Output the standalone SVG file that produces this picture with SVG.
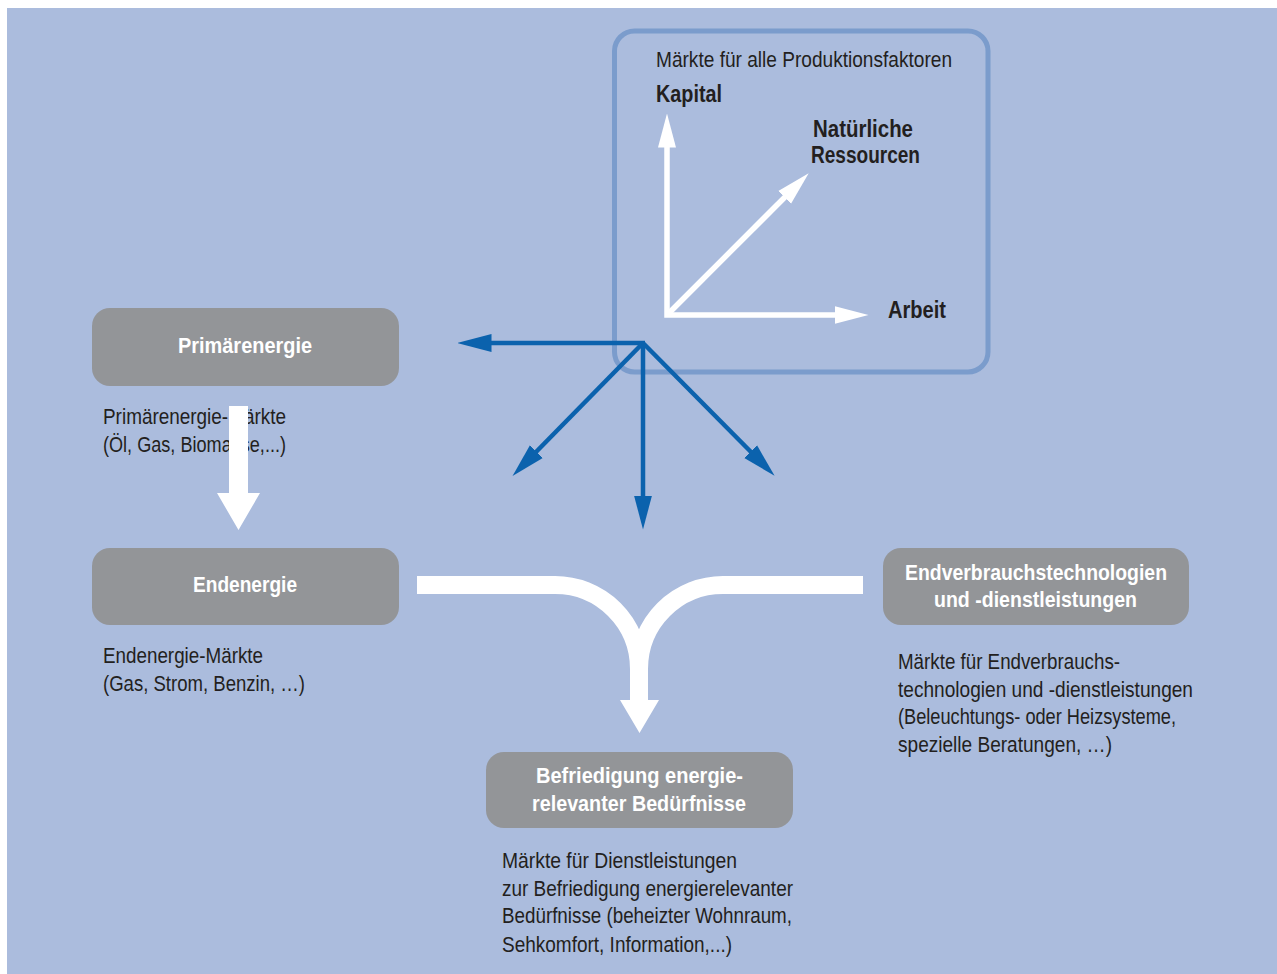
<svg xmlns="http://www.w3.org/2000/svg" width="1277" height="974" viewBox="0 0 1277 974">
<style>
.bg{fill:#abbcdd}
.node{fill:#939598}
.nt{font-family:"Liberation Sans Narrow","Liberation Sans",Arial,sans-serif;font-weight:bold;font-size:22px;fill:#ffffff}
.body{font-family:"Liberation Sans Narrow","Liberation Sans",Arial,sans-serif;font-size:22px;fill:#231f20}
.lab{font-family:"Liberation Sans Narrow","Liberation Sans",Arial,sans-serif;font-weight:bold;font-size:23px;fill:#231f20}
.blue{stroke:#0b62ad;stroke-width:4.5;fill:none;marker-end:url(#hb)}
.white{stroke:#ffffff;stroke-width:5.5;fill:none}
.flow{stroke:#ffffff;stroke-width:18;fill:none}
</style>
<defs>
<marker id="hb" viewBox="0 -10 34 20" markerWidth="34" markerHeight="20" refX="0.5" refY="0" markerUnits="userSpaceOnUse" orient="auto">
<path d="M0,-9 L34,0 L0,9 z" fill="#0b62ad"/>
</marker>
<marker id="hw" viewBox="0 -10 34 20" markerWidth="34" markerHeight="20" refX="0.5" refY="0" markerUnits="userSpaceOnUse" orient="auto-start-reverse">
<path d="M0,-9 L34,0 L0,9 z" fill="#ffffff"/>
</marker>
</defs>
<rect class="bg" x="7" y="8" width="1270" height="966"/>

<g id="produktionsfaktoren">
<rect x="614.5" y="31" width="373.5" height="341" rx="20" ry="20" fill="none" stroke="#7b9ccc" stroke-width="5"/>
<text class="body" x="656" y="67" textLength="296" lengthAdjust="spacingAndGlyphs">Märkte für alle Produktionsfaktoren</text>
<text class="lab" x="656" y="102" textLength="66" lengthAdjust="spacingAndGlyphs">Kapital</text>
<text class="lab" x="813" y="137" textLength="100" lengthAdjust="spacingAndGlyphs">Natürliche</text>
<text class="lab" x="811" y="163" textLength="109" lengthAdjust="spacingAndGlyphs">Ressourcen</text>
<text class="lab" x="888" y="318" textLength="58" lengthAdjust="spacingAndGlyphs">Arbeit</text>
<path class="white" d="M667,147 V315 H835" marker-start="url(#hw)" marker-end="url(#hw)" stroke-linejoin="miter"/>
<path class="white" d="M667,315 L785,197" marker-end="url(#hw)"/>
</g>

<g id="primaerenergie">
<rect class="node" x="92" y="308" width="307" height="78" rx="18" ry="18"/>
<text class="nt" x="178" y="353" textLength="134" lengthAdjust="spacingAndGlyphs">Primärenergie</text>
<text class="body" x="103" y="424" textLength="183" lengthAdjust="spacingAndGlyphs">Primärenergie-Märkte</text>
<text class="body" x="103" y="452" textLength="183" lengthAdjust="spacingAndGlyphs">(Öl, Gas, Biomasse,...)</text>
</g>

<g id="endenergie">
<rect class="node" x="92" y="548" width="307" height="77" rx="18" ry="18"/>
<text class="nt" x="193" y="592" textLength="104" lengthAdjust="spacingAndGlyphs">Endenergie</text>
<text class="body" x="103" y="663" textLength="160" lengthAdjust="spacingAndGlyphs">Endenergie-Märkte</text>
<text class="body" x="103" y="691" textLength="202" lengthAdjust="spacingAndGlyphs">(Gas, Strom, Benzin, …)</text>
</g>

<g id="endverbrauch">
<rect class="node" x="883" y="548" width="306" height="77" rx="18" ry="18"/>
<text class="nt" x="905" y="580" textLength="262" lengthAdjust="spacingAndGlyphs">Endverbrauchstechnologien</text>
<text class="nt" x="934" y="607" textLength="203" lengthAdjust="spacingAndGlyphs">und -dienstleistungen</text>
<text class="body" x="898" y="669" textLength="222" lengthAdjust="spacingAndGlyphs">Märkte für Endverbrauchs-</text>
<text class="body" x="898" y="697" textLength="295" lengthAdjust="spacingAndGlyphs">technologien und -dienstleistungen</text>
<text class="body" x="898" y="724" textLength="278" lengthAdjust="spacingAndGlyphs">(Beleuchtungs- oder Heizsysteme,</text>
<text class="body" x="898" y="752" textLength="214" lengthAdjust="spacingAndGlyphs">spezielle Beratungen, …)</text>
</g>

<g id="befriedigung">
<rect class="node" x="486" y="752" width="307" height="76" rx="18" ry="18"/>
<text class="nt" x="536" y="783" textLength="207" lengthAdjust="spacingAndGlyphs">Befriedigung energie-</text>
<text class="nt" x="532" y="811" textLength="214" lengthAdjust="spacingAndGlyphs">relevanter Bedürfnisse</text>
<text class="body" x="502" y="868" textLength="235" lengthAdjust="spacingAndGlyphs">Märkte für Dienstleistungen</text>
<text class="body" x="502" y="896" textLength="291" lengthAdjust="spacingAndGlyphs">zur Befriedigung energierelevanter</text>
<text class="body" x="502" y="923" textLength="290" lengthAdjust="spacingAndGlyphs">Bedürfnisse (beheizter Wohnraum,</text>
<text class="body" x="502" y="952" textLength="230" lengthAdjust="spacingAndGlyphs">Sehkomfort, Information,...)</text>
</g>

<g id="connectors">
<path class="blue" d="M645,343 H491"/>
<path class="blue" d="M643,343 V496"/>
<path class="blue" d="M643,343 L536,452"/>
<path class="blue" d="M643,343 L751,452"/>
<polygon points="229,406 248,406 248,493 260,493 238.5,530 217,493 229,493" fill="#ffffff"/>
<path class="flow" d="M417,585 H555 A84,84 0 0 1 639,669"/>
<path class="flow" d="M863,585 H723 A84,84 0 0 0 639,669"/>
<polygon points="630,668 648,668 648,700 659,700 639.5,733 620,700 630,700" fill="#ffffff"/>
</g>
</svg>
